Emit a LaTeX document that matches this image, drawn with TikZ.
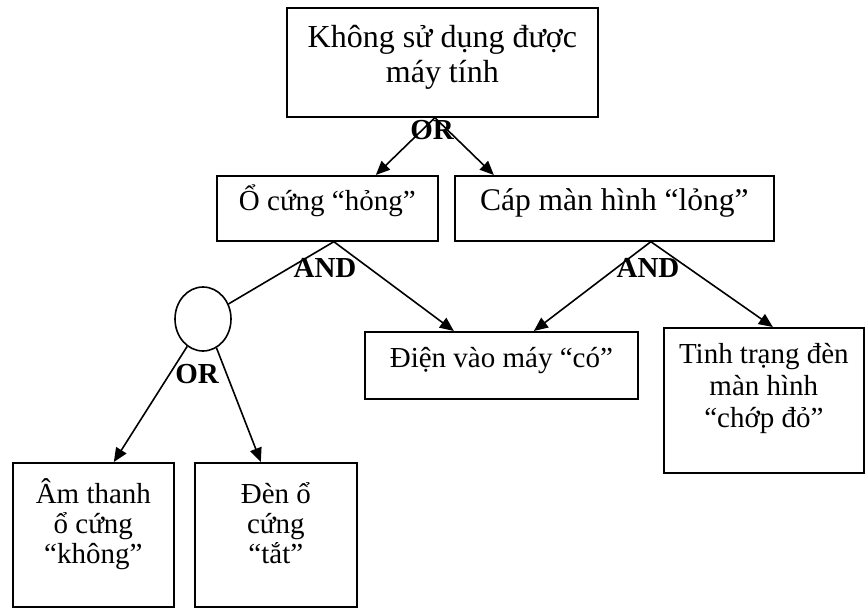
\documentclass[tikz,border=0pt]{standalone}
\usepackage{fontspec}
\setmainfont{Liberation Serif}
\usetikzlibrary{arrows.meta,positioning,shapes.geometric}
\newcommand\firstln{\rule{0pt}{27pt}}

\begin{document}
\begin{tikzpicture}[x=1pt, y=-1pt,
    box/.style={draw, line width=1.7pt, inner sep=0pt, anchor=north west},
    txt/.style={inner sep=0pt, anchor=north, align=center,
                font=\fontsize{29}{32}\selectfont},
    gate/.style={inner sep=0pt, font=\fontsize{29}{32}\selectfont\bfseries},
    lnk/.style={line width=1.6pt},
    arr/.style={lnk, -{Triangle[length=14pt,width=12pt]}},
  ]
  \useasboundingbox (0,0) rectangle (865,610);

  %% Top event
  \node[box, minimum width=311pt, minimum height=109pt] (top) at (286,7) {};
  \node[txt, font=\fontsize{32}{35}\selectfont] (topT) at ([yshift=-13pt]top.north)
    {\firstln Không sử dụng được\\máy tính};

  %% Second level
  \node[box, minimum width=221pt, minimum height=65pt] (ocung) at (216,175) {};
  \node[txt] (ocungT) at ([yshift=-8pt]ocung.north) {\firstln Ổ cứng “hỏng”};
  \node[box, minimum width=319pt, minimum height=65pt] (cap) at (454,175) {};
  \node[txt, font=\fontsize{31.5}{32}\selectfont] (capT) at ([yshift=-8pt]cap.north)
    {\firstln Cáp màn hình “lỏng”};

  %% Third level
  \node[draw, lnk, ellipse, inner sep=0pt, minimum width=56pt, minimum height=64pt]
    (circ) at (203,319) {};
  \node[box, minimum width=273pt, minimum height=67pt] (dien) at (364,331) {};
  \node[txt] (dienT) at ([yshift=-9pt]dien.north) {\firstln Điện vào máy “có”};
  \node[box, minimum width=200pt, minimum height=145pt] (tinh) at (663,327) {};
  \node[txt] (tinhT) at ([yshift=-9pt]tinh.north)
    {\firstln Tinh trạng đèn\\màn hình\\“chớp đỏ”};

  %% Bottom level
  \node[box, minimum width=161pt, minimum height=144pt] (am) at (12,462) {};
  \node[txt, font=\fontsize{29}{30}\selectfont] (amT) at ([yshift=-14pt]am.north)
    {\firstln Âm thanh\\ổ cứng\\“không”};
  \node[box, minimum width=162pt, minimum height=144pt] (den) at (194,462) {};
  \node[txt, font=\fontsize{29}{30}\selectfont] (denT) at ([yshift=-14pt]den.north)
    {\firstln Đèn ổ\\cứng\\“tắt”};

  %% Gates
  \coordinate (orA) at ([xshift=-7.5pt]top.south);
  \draw[arr] (orA) -- ([xshift=48.5pt]ocung.north);
  \draw[arr] (orA) -- ([xshift=-120.5pt]cap.north);
  \node[gate] (orTop) at (432,130) {OR};

  \coordinate (andA) at ([xshift=6.5pt]ocung.south);
  \draw[lnk] (andA) -- (circ);
  \draw[arr] (andA) -- ([xshift=-47.5pt]dien.north);
  \node[gate] (andL) at (325,268) {AND};

  \coordinate (andB) at ([xshift=36.5pt]cap.south);
  \draw[arr] (andB) -- ([xshift=32.5pt]dien.north);
  \draw[arr] (andB) -- ([xshift=9pt]tinh.north);
  \node[gate] (andR) at (648,268) {AND};

  \draw[arr] (circ.240) -- ([xshift=20.5pt]am.north);
  \draw[arr] (circ.295) -- ([xshift=-15pt]den.north);
  \node[gate] (orLow) at (197,374) {OR};
\end{tikzpicture}
\end{document}
